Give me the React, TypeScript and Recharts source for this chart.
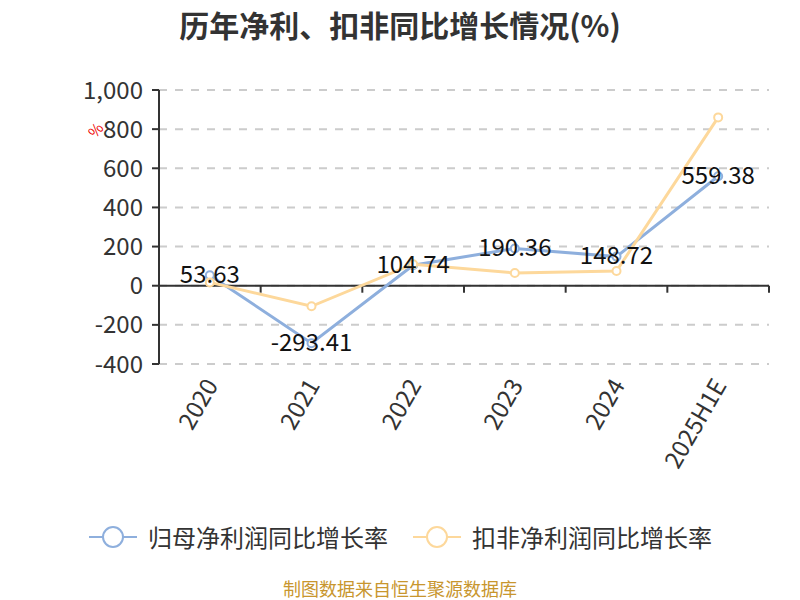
import React from 'react';
import { LineChart, Line, XAxis, YAxis, CartesianGrid, ReferenceLine, LabelList } from 'recharts';

const years = ['2020', '2021', '2022', '2023', '2024', '2025H1E'];
const netProfitGrowth = [53.63, -293.41, 104.74, 190.36, 148.72, 559.38];
const deductedProfitGrowth = [17, -105, 110, 65, 75, 860];
const yTicks = [-400, -200, 0, 200, 400, 600, 800, 1000];
const seriesNames = ['归母净利润同比增长率', '扣非净利润同比增长率'];
const seriesColors = ['#8EAFDD', '#FDD89B'];

const FONT = '"Noto Sans CJK SC", "Noto Sans", sans-serif';

const data = years.map((year, i) => ({
  year,
  net: netProfitGrowth[i],
  deducted: deductedProfitGrowth[i],
}));

// zero line acts as the category axis, ticks sit between categories
const ZeroAxis = (props: any) => {
  const { x1, x2, y1 } = props;
  const step = (x2 - x1) / years.length;
  return (
    <g>
      <line x1={x1} x2={x2} y1={y1} y2={y1} stroke="#333" strokeWidth={2} />
      {years.map((_, i) => (
        <line
          key={i}
          x1={x1 + step * (i + 1)}
          x2={x1 + step * (i + 1)}
          y1={y1}
          y2={y1 + 7}
          stroke="#333"
          strokeWidth={2}
        />
      ))}
    </g>
  );
};

const YearTick = (props: any) => {
  const { x, y, payload } = props;
  return (
    <g transform={`translate(${x},${y})`}>
      <text
        transform="rotate(-60)"
        textAnchor="end"
        dominantBaseline="central"
        fontSize={24}
        fontFamily={FONT}
        fill="#333"
      >
        {payload.value}
      </text>
    </g>
  );
};

const ValueLabel = (props: any) => {
  const { x, y, value } = props;
  return (
    <text
      x={x}
      y={y - 3}
      textAnchor="middle"
      dominantBaseline="central"
      fontSize={24}
      fontFamily={FONT}
      fill="#111"
    >
      {value}
    </text>
  );
};

const LegendItem = ({ name, color }: { name: string; color: string }) => (
  <div style={{ display: 'flex', alignItems: 'center', marginRight: 24 }}>
    <svg width={50} height={24} style={{ marginRight: 10 }}>
      <line x1={1} x2={49} y1={12} y2={12} stroke={color} strokeWidth={2} />
      <circle cx={25} cy={12} r={10} fill="#fff" stroke={color} strokeWidth={2} />
    </svg>
    <span style={{ fontSize: 24, color: '#333' }}>{name}</span>
  </div>
);

export default function App() {
  return (
    <div style={{ position: 'absolute', left: 0, top: 0, width: 800, height: 600, background: '#fff', fontFamily: FONT, overflow: 'hidden' }}>
      <div
        style={{
          position: 'absolute', top: 9, left: 0, width: 800, textAlign: 'center',
          fontSize: 30, lineHeight: '30px', fontWeight: 'bold', color: '#333',
        }}
      >
        历年净利、扣非同比增长情况(%)
      </div>
      <div
        style={{
          position: 'absolute', left: 88, top: 122, fontSize: 15, lineHeight: '15px',
          color: '#e00', transform: 'rotate(-50deg)',
        }}
      >
        %
      </div>
      <LineChart width={800} height={600} data={data} margin={{ top: 90, right: 31, bottom: 0, left: 0 }}>
        <CartesianGrid vertical={false} stroke="#ccc" strokeWidth={2} strokeDasharray="8 8" />
        <XAxis
          dataKey="year"
          scale="band"
          height={236}
          axisLine={false}
          tickLine={false}
          tickMargin={10}
          interval={0}
          tick={<YearTick />}
        />
        <YAxis
          width={159}
          domain={[-400, 1000]}
          ticks={yTicks}
          interval={0}
          tickSize={7}
          tickMargin={9}
          axisLine={{ stroke: '#333', strokeWidth: 2 }}
          tickLine={{ stroke: '#333', strokeWidth: 2 }}
          tick={{ fill: '#333', fontSize: 24, fontFamily: FONT }}
          tickFormatter={(v: number) => v.toLocaleString('en-US')}
        />
        <ReferenceLine y={0} shape={<ZeroAxis />} />
        <Line
          dataKey="net"
          name={seriesNames[0]}
          stroke={seriesColors[0]}
          strokeWidth={3}
          dot={{ r: 4, fill: '#fff', stroke: seriesColors[0], strokeWidth: 2 }}
          isAnimationActive={false}
        >
          <LabelList dataKey="net" content={<ValueLabel />} />
        </Line>
        <Line
          dataKey="deducted"
          name={seriesNames[1]}
          stroke={seriesColors[1]}
          strokeWidth={3}
          dot={{ r: 4, fill: '#fff', stroke: seriesColors[1], strokeWidth: 2 }}
          isAnimationActive={false}
        />
      </LineChart>
      <div style={{ position: 'absolute', top: 525, left: 88, display: 'flex', lineHeight: '24px' }}>
        {seriesNames.map((name, i) => (
          <LegendItem key={name} name={name} color={seriesColors[i]} />
        ))}
      </div>
      <div
        style={{
          position: 'absolute', top: 577, left: 0, width: 800, textAlign: 'center',
          fontSize: 18, lineHeight: '22px', color: '#C8962E',
        }}
      >
        制图数据来自恒生聚源数据库
      </div>
    </div>
  );
}
